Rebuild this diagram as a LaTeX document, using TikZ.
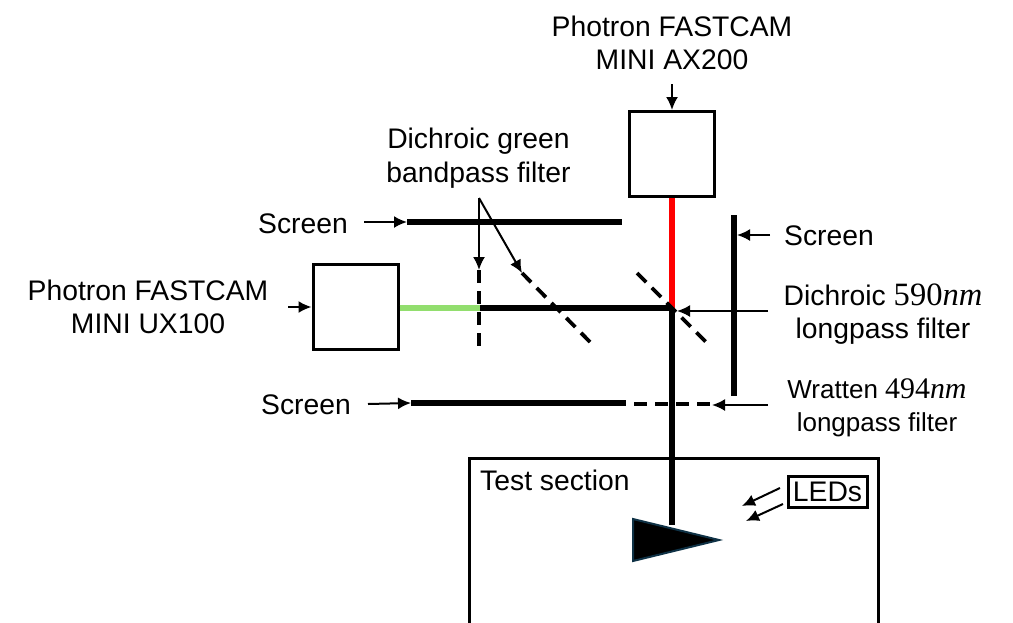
\documentclass[tikz,border=0pt]{standalone}
\usepackage[no-math]{fontspec}
\usetikzlibrary{arrows.meta}
\setmainfont{Liberation Sans}
\newfontfamily\waveFont[Scale=1.15]{Liberation Serif}
\newcommand{\labelFont}[0]{\fontsize{28.3}{33.5}\selectfont}
\newcommand{\smallFont}[0]{\fontsize{26}{33}\selectfont}
\newcommand{\wave}[1]{{\waveFont #1\textit{nm}}}

\begin{document}
\begin{tikzpicture}[x=1pt, y=-1pt]
  \tikzset{every node/.style={align=center, inner sep=0pt},
    camera/.style={draw, line width=3pt, minimum width=85pt, minimum height=85pt},
    beam/.style={line width=6pt},
    screenbar/.style={line width=6pt},
    filterbar/.style={line width=3.8pt, dash pattern=on 13pt off 8pt},
    pointer/.style={-{Latex[length=13pt,width=12pt]}, line width=2pt}}
  \useasboundingbox (0,0) rectangle (1013,622);
  % cameras
  \node[camera] (ax) at (672,154) {};
  \node[camera] (ux) at (355.5,307) {};
  \node[font=\labelFont] (axlabel) at (672,43) {Photron FASTCAM\\MINI AX200};
  \node[font=\labelFont] (uxlabel) at (148,307) {Photron FASTCAM\\MINI UX100};
  % test section
  \coordinate (tsa) at (469,625);
  \coordinate (tsb) at (469,458);
  \coordinate (tsc) at (878,458);
  \coordinate (tsd) at (878,625);
  \draw[line width=3pt] (tsa) -- (tsb) -- (tsc) -- (tsd);
  \node[font=\labelFont, anchor=west] (tslabel) at (480,480) {Test section};
  % beams
  \coordinate (split) at (672,308);
  \coordinate (green) at (480,308);
  \coordinate (model) at (672,525);
  \draw[beam, red] (ax.south) -- (split);
  \draw[beam, draw={rgb,255:red,146;green,222;blue,110}] (ux.east |- green) -- (green);
  \draw[beam] (green) -- (split);
  \draw[beam] (split) -- (model);
  % model
  \coordinate (nosea) at (633,519);
  \coordinate (noseb) at (719,540);
  \coordinate (nosec) at (633,561);
  \draw[line width=2pt, draw={rgb,255:red,15;green,50;blue,70}, fill=black] (nosea) -- (noseb) -- (nosec) -- cycle;
  % screens
  \coordinate (sua) at (407,222);
  \coordinate (sub) at (622,222);
  \coordinate (sla) at (411,403);
  \coordinate (slb) at (626,403);
  \coordinate (sra) at (734,215);
  \coordinate (srb) at (734,396);
  \draw[screenbar] (sua) -- (sub);
  \draw[screenbar] (sla) -- (slb);
  \draw[screenbar] (sra) -- (srb);
  \node[font=\labelFont] (sulabel) at (303,224) {Screen};
  \node[font=\labelFont] (sllabel) at (306,405) {Screen};
  \node[font=\labelFont] (srlabel) at (829,236) {Screen};
  % filters
  \coordinate (gva) at (479,270);
  \coordinate (gvb) at (479,347);
  \coordinate (gda) at (522,273);
  \coordinate (gdb) at (590,342);
  \coordinate (dca) at (637,273);
  \coordinate (dcb) at (707,343);
  \coordinate (wra) at (634,404);
  \coordinate (wrb) at (710,404);
  \draw[filterbar] (gva) -- (gvb);
  \draw[filterbar] (gda) -- (gdb);
  \draw[filterbar] (dca) -- (dcb);
  \draw[filterbar] (wra) -- (wrb);
  \node[font=\labelFont] (gflabel) at (478.5,158) {Dichroic green\\bandpass filter};
  \node[font=\labelFont] (dclabel) at (883,314) {Dichroic \wave{590}\\longpass filter};
  \node[font=\smallFont] (wrlabel) at (877,408) {Wratten \wave{494}\\longpass filter};
  % pointers
  \coordinate (gfroot) at (479,198);
  \coordinate (axtail) at (672,84);
  \coordinate (uxtail) at (288,307);
  \coordinate (sutail) at (364,222);
  \coordinate (sltail) at (368,404);
  \coordinate (srtail) at (770,235);
  \coordinate (srhead) at (737,235);
  \coordinate (dctail) at (768,311);
  \coordinate (dchead) at (677,311);
  \coordinate (wrtail) at (768,405);
  \coordinate (wrhead) at (712,405);
  \draw[pointer] (axtail) -- (ax.north);
  \draw[pointer] (uxtail) -- (ux.west);
  \draw[pointer] (sutail) -- (sua);
  \draw[pointer] (sltail) -- (sla);
  \draw[pointer] (srtail) -- (srhead);
  \draw[pointer] (dctail) -- (dchead);
  \draw[pointer] (wrtail) -- (wrhead);
  \draw[pointer] (gfroot) -- (gva);
  \draw[pointer] (gfroot) -- (gda);
  % LEDs
  \node[draw, line width=3pt, font=\labelFont, minimum width=79pt, minimum height=31pt] (leds) at (827.5,491.5) {LEDs};
  \coordinate (lata) at (780,488);
  \coordinate (lhda) at (742,506);
  \coordinate (latb) at (783,504);
  \coordinate (lhdb) at (746,521);
  \draw[pointer] (lata) -- (lhda);
  \draw[pointer] (latb) -- (lhdb);
\end{tikzpicture}
\end{document}
